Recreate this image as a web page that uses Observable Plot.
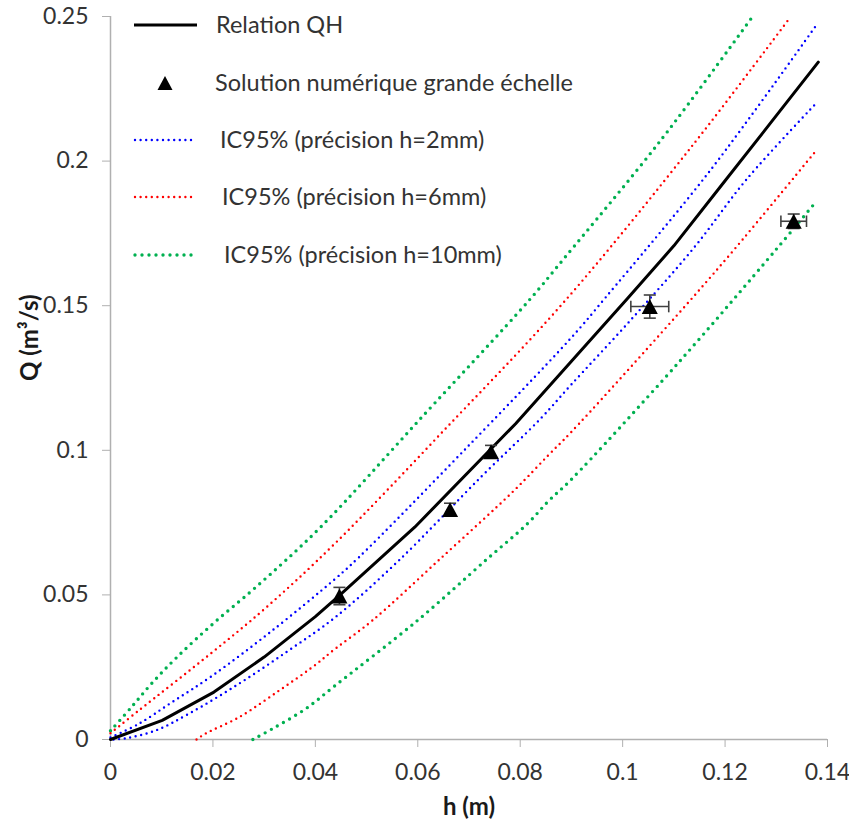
<!DOCTYPE html>
<html><head><meta charset="utf-8">
<script src="https://cdn.jsdelivr.net/npm/d3@7"></script>
<script src="https://cdn.jsdelivr.net/npm/@observablehq/plot@0.6"></script>
<style>
body{margin:0;background:#fff;font-family:Lato,"Open Sans",sans-serif;}
#wrap{position:relative;width:849px;height:835px;overflow:hidden;}
</style></head><body><div id="wrap"></div>
<script>
// Relation QH (black solid)
const qhH = [0, 0.0101, 0.0202, 0.03, 0.04, 0.0445, 0.0594, 0.0791, 0.09, 0.1009, 0.11, 0.12, 0.13, 0.1382];
const qhQ = [0, 0.0066, 0.0164, 0.0285, 0.0425, 0.0495, 0.0734, 0.1092, 0.1308, 0.1524, 0.1707, 0.1932, 0.2157, 0.2342];

// IC95% h=2mm (blue)
const blueUpH = [0, 0.0055, 0.012, 0.0199, 0.0316, 0.0439, 0.0485, 0.069, 0.0898, 0.0967, 0.1172, 0.1379];
const blueUpQ = [0.0007, 0.0054, 0.0129, 0.0221, 0.0377, 0.0556, 0.063, 0.0999, 0.1386, 0.1529, 0.1970, 0.2472];
const blueLoH = [0.0006, 0.0029, 0.0088, 0.0153, 0.0251, 0.0348, 0.0439, 0.0563, 0.0723, 0.084, 0.0898, 0.1015, 0.1139, 0.1243, 0.138];
const blueLoQ = [0, 0.0004, 0.0031, 0.0089, 0.0193, 0.0308, 0.0423, 0.0619, 0.0907, 0.111, 0.1224, 0.1449, 0.1700, 0.1939, 0.2204];

// IC95% h=6mm (red)
const redUpH = [0, 0.0055, 0.0199, 0.0303, 0.0439, 0.0657, 0.0885, 0.1139, 0.1325];
const redUpQ = [0.0022, 0.010, 0.0302, 0.0455, 0.0679, 0.108, 0.1512, 0.206, 0.2492];
const redLoH = [0.0168, 0.0185, 0.0251, 0.0329, 0.0394, 0.0439, 0.0511, 0.0644, 0.0788, 0.0856, 0.0898, 0.1074, 0.1211, 0.1379];
const redLoQ = [0, 0.002, 0.0077, 0.0169, 0.025, 0.0314, 0.0411, 0.0625, 0.0861, 0.0985, 0.1060, 0.1403, 0.168, 0.2039];

// IC95% h=10mm (green)
const greenUpH = [0, 0.004, 0.008, 0.013, 0.02, 0.0284, 0.041, 0.0605, 0.0817, 0.0885, 0.1074, 0.1253];
const greenUpQ = [0.003, 0.011, 0.0193, 0.0285, 0.0400, 0.0527, 0.0734, 0.1109, 0.1518, 0.1662, 0.2071, 0.2498];
const greenLoH = [0.0278, 0.0316, 0.0381, 0.0439, 0.0599, 0.0736, 0.0814, 0.0856, 0.0898, 0.1107, 0.1298, 0.1375];
const greenLoQ = [0, 0.0037, 0.0106, 0.0187, 0.0411, 0.0625, 0.0746, 0.0826, 0.0896, 0.1299, 0.1691, 0.1854];

// Solution numérique grande échelle (triangles with error bars)
const ptH = [0.0447, 0.0663, 0.0743, 0.1053, 0.1334];
const ptQ = [0.0496, 0.0795, 0.0995, 0.1497, 0.1792];
const ptErrQ = [0.003, 0.0022, 0.0022, 0.004, 0.0025];
const ptErrH = [0, 0, 0, 0.0037, 0.0025];

const xTicks = [0, 0.02, 0.04, 0.06, 0.08, 0.1, 0.12, 0.14];
const yTicks = [0, 0.05, 0.1, 0.15, 0.2, 0.25];
const xLabel = "h (m)";
const yLabel = "Q (m³/s)";
const legendLabels = ["Relation QH", "Solution numérique grande échelle", "IC95% (précision h=2mm)", "IC95% (précision h=6mm)", "IC95% (précision h=10mm)"];

const zip = (hs, qs) => hs.map((h, i) => ({h, q: qs[i]}));
const pts = ptH.map((h, i) => ({h, q: ptQ[i], eq: ptErrQ[i], eh: ptErrH[i]}));
const ptsX = pts.filter(d => d.eh > 0);

const tri = {draw(ctx, size) { const s = Math.sqrt(size); const w = s * 1.08; ctx.moveTo(0, -s / 2); ctx.lineTo(w / 2, s / 2); ctx.lineTo(-w / 2, s / 2); ctx.closePath(); }};
const hCap = {draw(ctx, size) { const s = Math.sqrt(size); ctx.moveTo(-s / 2, 0); ctx.lineTo(s / 2, 0); }};
const vCap = {draw(ctx, size) { const s = Math.sqrt(size); ctx.moveTo(0, -s / 2); ctx.lineTo(0, s / 2); }};

const BLUE = "#0000ff", RED = "#ff0000", GREEN = "#00b050", ERR = "#404040", AX = "#b0b0b0", TXT = "#333333";
const FONT = "Lato, 'Open Sans', sans-serif";
const dotBlue = {stroke: BLUE, strokeWidth: 2.4, strokeDasharray: "0 5.6", strokeLinecap: "round", curve: "catmull-rom"};
const dotRed = {stroke: RED, strokeWidth: 2.4, strokeDasharray: "0 5.6", strokeLinecap: "round", curve: "catmull-rom"};
const dotGreen = {stroke: GREEN, strokeWidth: 3.4, strokeDasharray: "0 7", strokeLinecap: "round", curve: "catmull-rom"};
const fmt = d3.format("~g");

const chart = Plot.plot({
  width: 849, height: 835,
  marginLeft: 110, marginRight: 22, marginTop: 16, marginBottom: 96,
  style: {fontFamily: FONT, fontSize: "23px", background: "#fff"},
  x: {domain: [0, 0.14]},
  y: {domain: [0, 0.25]},
  marks: [
    Plot.axisX({ticks: xTicks, tickFormat: fmt, tickSize: 8, tickPadding: 16, stroke: AX, fill: TXT, fontSize: 23, label: null}),
    Plot.axisY({ticks: yTicks, tickFormat: fmt, tickSize: 8, tickPadding: 14, stroke: AX, fill: TXT, fontSize: 23, label: null}),
    Plot.ruleY([0], {stroke: AX, strokeWidth: 1.5}),
    Plot.ruleX([0], {stroke: AX, strokeWidth: 1.5}),
    Plot.line(zip(greenUpH, greenUpQ), {x: "h", y: "q", ...dotGreen}),
    Plot.line(zip(greenLoH, greenLoQ), {x: "h", y: "q", ...dotGreen}),
    Plot.line(zip(redUpH, redUpQ), {x: "h", y: "q", ...dotRed}),
    Plot.line(zip(redLoH, redLoQ), {x: "h", y: "q", ...dotRed}),
    Plot.line(zip(blueUpH, blueUpQ), {x: "h", y: "q", ...dotBlue}),
    Plot.line(zip(blueLoH, blueLoQ), {x: "h", y: "q", ...dotBlue}),
    Plot.line(zip(qhH, qhQ), {x: "h", y: "q", stroke: "#000", strokeWidth: 3, strokeLinejoin: "round"}),
    // error bars
    Plot.link(pts, {x1: "h", x2: "h", y1: d => d.q - d.eq, y2: d => d.q + d.eq, stroke: ERR, strokeWidth: 1.6}),
    Plot.dot(pts, {x: "h", y: d => d.q - d.eq, symbol: hCap, r: 6.8, stroke: ERR, strokeWidth: 1.6, fill: "none"}),
    Plot.dot(pts, {x: "h", y: d => d.q + d.eq, symbol: hCap, r: 6.8, stroke: ERR, strokeWidth: 1.6, fill: "none"}),
    Plot.link(ptsX, {y1: "q", y2: "q", x1: d => d.h - d.eh, x2: d => d.h + d.eh, stroke: ERR, strokeWidth: 1.6}),
    Plot.dot(ptsX, {x: d => d.h - d.eh, y: "q", symbol: vCap, r: 6.5, stroke: ERR, strokeWidth: 1.6, fill: "none"}),
    Plot.dot(ptsX, {x: d => d.h + d.eh, y: "q", symbol: vCap, r: 6.5, stroke: ERR, strokeWidth: 1.6, fill: "none"}),
    Plot.dot(pts, {x: "h", y: "q", symbol: tri, r: 8.4, fill: "#000", stroke: "none"}),
    // axis titles
    Plot.text([yLabel], {frameAnchor: "left", dx: -80, dy: 3, rotate: -90, fontWeight: "bold", fontSize: 24, fill: "#1a1a1a"}),
    Plot.text([xLabel], {frameAnchor: "bottom", dy: 75, fontWeight: "bold", fontSize: 24, fill: "#1a1a1a"})
  ]
});

const wrap = document.getElementById("wrap");
wrap.appendChild(chart);

// legend overlay (inside plot area, top-left)
const rows = [
  {label: legendLabels[0], kind: "line"},
  {label: legendLabels[1], kind: "tri"},
  {label: legendLabels[2], kind: "dot", color: BLUE, w: 2.4, gap: 5.6},
  {label: legendLabels[3], kind: "dot", color: RED, w: 2.4, gap: 5.6},
  {label: legendLabels[4], kind: "dot", color: GREEN, w: 3.4, gap: 7}
];
const ns = "http://www.w3.org/2000/svg";
const lg = document.createElementNS(ns, "svg");
lg.setAttribute("width", 700);
lg.setAttribute("height", 290);
lg.style.position = "absolute"; lg.style.left = "0px"; lg.style.top = "0px";
const rowY = [25, 83, 140, 197, 255];
const textX = [216, 215, 220, 222, 224];
rows.forEach((r, i) => {
  const y = rowY[i];
  if (r.kind === "line") {
    const l = document.createElementNS(ns, "line");
    l.setAttribute("x1", 134); l.setAttribute("x2", 197); l.setAttribute("y1", y); l.setAttribute("y2", y);
    l.setAttribute("stroke", "#000"); l.setAttribute("stroke-width", 3);
    lg.appendChild(l);
  } else if (r.kind === "tri") {
    const p = document.createElementNS(ns, "path");
    const cx = 165, s = 14, w = 15;
    p.setAttribute("d", `M${cx},${y - s / 2}L${cx + w / 2},${y + s / 2}L${cx - w / 2},${y + s / 2}Z`);
    p.setAttribute("fill", "#000");
    lg.appendChild(p);
  } else {
    const l = document.createElementNS(ns, "line");
    l.setAttribute("x1", 135); l.setAttribute("x2", 192); l.setAttribute("y1", y); l.setAttribute("y2", y);
    l.setAttribute("stroke", r.color); l.setAttribute("stroke-width", r.w);
    l.setAttribute("stroke-dasharray", `0 ${r.gap}`); l.setAttribute("stroke-linecap", "round");
    lg.appendChild(l);
  }
  const t = document.createElementNS(ns, "text");
  t.setAttribute("x", textX[i]); t.setAttribute("y", y);
  t.setAttribute("dy", "0.35em");
  t.setAttribute("font-family", FONT);
  t.setAttribute("font-size", 23.5);
  t.setAttribute("fill", TXT);
  t.textContent = r.label;
  lg.appendChild(t);
});
wrap.appendChild(lg);
</script>
</body></html>
